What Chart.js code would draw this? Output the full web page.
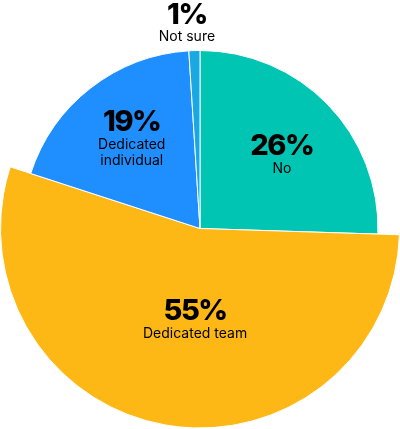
<!DOCTYPE html>
<html>
<head>
<meta charset="utf-8">
<script src="https://cdn.jsdelivr.net/npm/chart.js@4/dist/chart.umd.min.js"></script>
<style>
  body { margin: 0; background: #fff; }
  #wrap { width: 400px; height: 429px; position: relative; }
</style>
</head>
<body>
<div id="wrap"><canvas id="my-chart"></canvas></div>
<script>
// chart data
const categories = ['No', 'Dedicated team', 'Dedicated\nindividual', 'Not sure']
const shares = [25.5, 54.5, 19, 1]
const colors = ['#00C5B2', '#FDB815', '#1F8FFF', '#19A8E2']

// label placement: angle tweak (deg) and distance from centre (px)
const labelAngleShift = [-1, -6.5, 5, -1.7]
const labelDistance = [116, 83, 126, 214]
const smallRadius = 178

// only the big slice keeps the full radius
const radiusPlugin = {
    id: 'radiusPlugin',
    afterDatasetsUpdate(chart) {
        let meta = chart.getDatasetMeta(0)
        meta.data.forEach((arc, i) => {
            if (i !== 1) arc.outerRadius = smallRadius
        })
    }
}

const labelPlugin = {
    id: 'labelPlugin',
    afterDatasetsDraw(chart) {
        let ctx = chart.ctx
        let meta = chart.getDatasetMeta(0)
        ctx.save()
        ctx.fillStyle = '#000'
        ctx.textAlign = 'center'
        ctx.textBaseline = 'middle'
        meta.data.forEach((arc, i) => {
            let mid = (arc.startAngle + arc.endAngle) / 2 + labelAngleShift[i] * Math.PI / 180
            let x = arc.x + Math.cos(mid) * labelDistance[i]
            let y = arc.y + Math.sin(mid) * labelDistance[i]
            ctx.font = '800 29px Inter, "DejaVu Sans", sans-serif'
            ctx.letterSpacing = '-1.5px'
            ctx.fillText(Math.round(shares[i]) + '%', x, y)
            ctx.font = '400 14px Inter, "DejaVu Sans", sans-serif'
            ctx.letterSpacing = '0px'
            let lines = categories[i].split('\n')
            lines.forEach((line, j) => {
                ctx.fillText(line, x, y + 22 + j * 16)
            })
        })
        ctx.restore()
    }
}

let ctx = document.getElementById('my-chart').getContext('2d')
let chart = new Chart(ctx, {
    type: 'pie',
    data: {
        labels: categories,
        datasets: [{
            data: shares,
            backgroundColor: colors,
            borderColor: '#fff',
            borderWidth: 1
        }]
    },
    options: {
        responsive: true,
        maintainAspectRatio: false,
        animation: false,
        events: [],
        layout: { padding: { top: 28, left: 0, right: 0, bottom: 0 } },
        plugins: {
            legend: { display: false },
            tooltip: { enabled: false }
        }
    },
    plugins: [radiusPlugin, labelPlugin]
})
</script>
</body>
</html>
